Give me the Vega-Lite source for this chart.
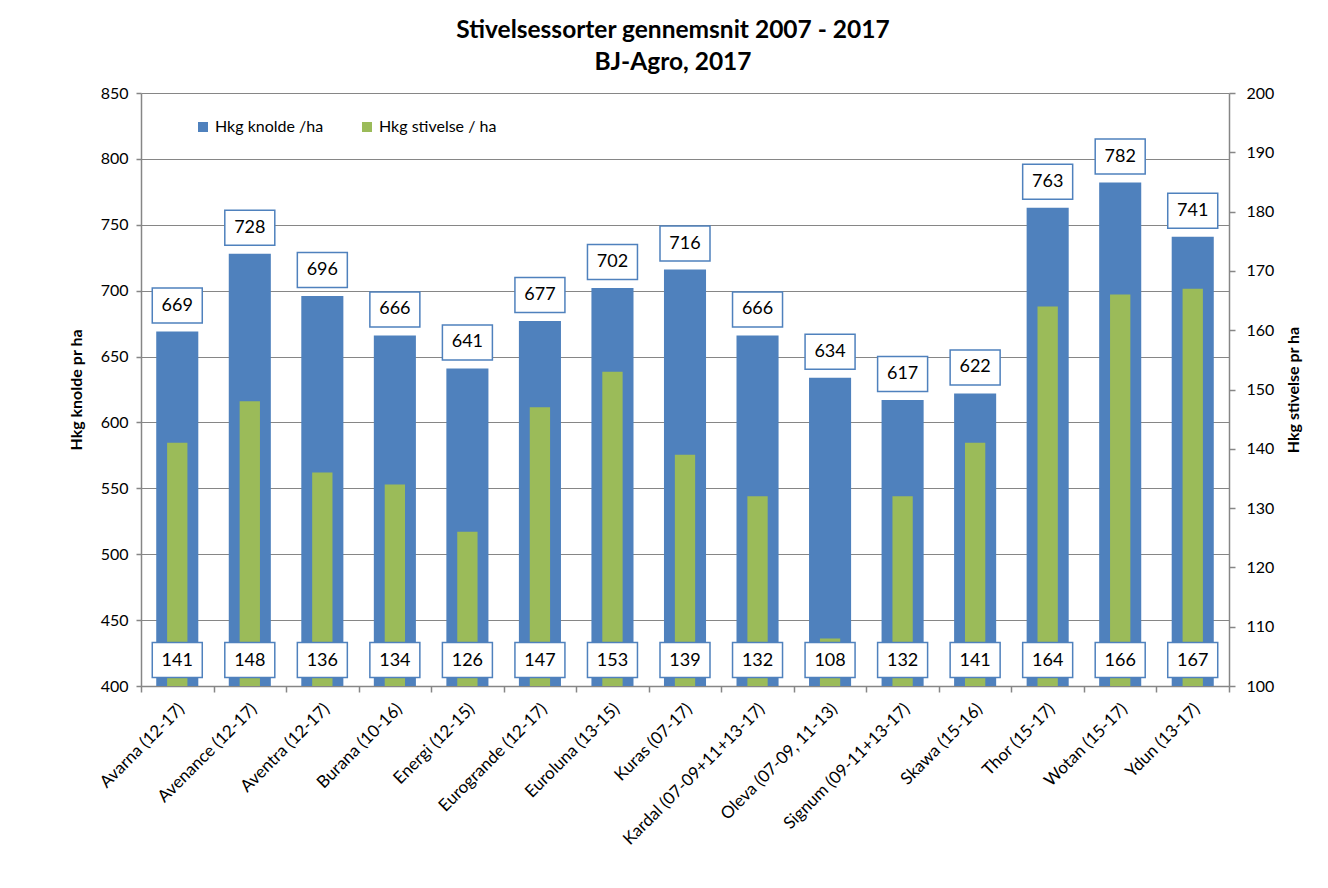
{
  "$schema": "https://vega.github.io/schema/vega-lite/v6.json",
  "autosize": "none",
  "padding": {"left": 141, "top": 93, "right": 99, "bottom": 202},
  "width": 1088,
  "height": 593,
  "background": "white",
  "title": {
    "text": ["Stivelsessorter gennemsnit 2007 - 2017", "BJ-Agro, 2017"],
    "fontSize": 24.5,
    "fontWeight": "bold",
    "lineHeight": 32,
    "offset": 10,
    "dx": -12,
    "anchor": "middle",
    "color": "#000"
  },
  "data": {
    "values": [
      {"sort": "Avarna (12-17)", "knolde": 669, "stivelse": 141},
      {"sort": "Avenance (12-17)", "knolde": 728, "stivelse": 148},
      {"sort": "Aventra (12-17)", "knolde": 696, "stivelse": 136},
      {"sort": "Burana (10-16)", "knolde": 666, "stivelse": 134},
      {"sort": "Energi (12-15)", "knolde": 641, "stivelse": 126},
      {"sort": "Eurogrande (12-17)", "knolde": 677, "stivelse": 147},
      {"sort": "Euroluna (13-15)", "knolde": 702, "stivelse": 153},
      {"sort": "Kuras (07-17)", "knolde": 716, "stivelse": 139},
      {"sort": "Kardal (07-09+11+13-17)", "knolde": 666, "stivelse": 132},
      {"sort": "Oleva (07-09, 11-13)", "knolde": 634, "stivelse": 108},
      {"sort": "Signum (09-11+13-17)", "knolde": 617, "stivelse": 132},
      {"sort": "Skawa (15-16)", "knolde": 622, "stivelse": 141},
      {"sort": "Thor (15-17)", "knolde": 763, "stivelse": 164},
      {"sort": "Wotan (15-17)", "knolde": 782, "stivelse": 166},
      {"sort": "Ydun (13-17)", "knolde": 741, "stivelse": 167}
    ]
  },
  "encoding": {
    "x": {
      "field": "sort",
      "type": "nominal",
      "sort": null,
      "scale": {"paddingInner": 0, "paddingOuter": 0},
      "axis": {
        "title": null,
        "ticks": true,
        "tickBand": "extent",
        "tickSize": 6,
        "domain": true,
        "grid": false,
        "labelAngle": -45,
        "labelAlign": "right",
        "labelBaseline": "middle",
        "labelPadding": 14,
        "labelOffset": 4,
        "labelLimit": 300,
        "labelFontSize": 17
      }
    }
  },
  "layer": [
    {
      "mark": {"type": "bar", "width": {"band": 0.58}, "clip": true},
      "encoding": {
        "y": {
          "field": "knolde",
          "type": "quantitative",
          "scale": {"domain": [400, 850], "nice": false, "zero": false},
          "axis": {
            "title": "Hkg knolde pr ha",
            "values": [400, 450, 500, 550, 600, 650, 700, 750, 800, 850],
            "grid": true,
            "tickSize": 5,
            "labelPadding": 8,
            "titlePadding": 16
          }
        },
        "color": {
          "datum": "Hkg knolde /ha",
          "type": "nominal",
          "scale": {
            "domain": ["Hkg knolde /ha", "Hkg stivelse / ha"],
            "range": ["#4f81bd", "#9bbb59"]
          },
          "legend": {
            "title": null,
            "orient": "none",
            "legendX": 54,
            "legendY": 26,
            "direction": "horizontal",
            "symbolType": "square",
            "symbolSize": 100,
            "symbolStrokeWidth": 0,
            "labelFontSize": 16,
            "labelColor": "#000",
            "labelOffset": 4,
            "columnPadding": 35
          }
        }
      }
    },
    {
      "mark": {"type": "bar", "width": {"band": 0.28}, "clip": true},
      "encoding": {
        "y": {
          "field": "stivelse",
          "type": "quantitative",
          "scale": {"domain": [100, 200], "nice": false, "zero": false},
          "axis": {
            "orient": "right",
            "title": "Hkg stivelse pr ha",
            "titleAngle": 270,
            "values": [100, 110, 120, 130, 140, 150, 160, 170, 180, 190, 200],
            "grid": false,
            "tickSize": 6,
            "labelPadding": 11,
            "titlePadding": 28
          }
        },
        "color": {"datum": "Hkg stivelse / ha", "type": "nominal"}
      }
    },
    {
      "mark": {
        "type": "point",
        "shape": "M-1,-0.7L1,-0.7L1,0.7L-1,0.7Z",
        "size": 2500,
        "filled": true,
        "fill": "white",
        "stroke": "#4f81bd",
        "strokeWidth": 1.5,
        "opacity": 1,
        "yOffset": -26
      },
      "encoding": {
        "y": {
          "field": "knolde",
          "type": "quantitative",
          "scale": {"domain": [400, 850], "nice": false, "zero": false},
          "axis": null
        }
      }
    },
    {
      "mark": {"type": "text", "fontSize": 18, "color": "#000", "baseline": "middle", "yOffset": -26},
      "encoding": {
        "y": {
          "field": "knolde",
          "type": "quantitative",
          "scale": {"domain": [400, 850], "nice": false, "zero": false},
          "axis": null
        },
        "text": {"field": "knolde", "type": "quantitative"}
      }
    },
    {
      "mark": {
        "type": "point",
        "shape": "M-1,-0.7L1,-0.7L1,0.7L-1,0.7Z",
        "size": 2500,
        "filled": true,
        "fill": "white",
        "stroke": "#4f81bd",
        "strokeWidth": 1.5,
        "opacity": 1,
        "yOffset": -26
      },
      "encoding": {
        "y": {
          "datum": 400,
          "type": "quantitative",
          "scale": {"domain": [400, 850], "nice": false, "zero": false},
          "axis": null
        }
      }
    },
    {
      "mark": {"type": "text", "fontSize": 18, "color": "#000", "baseline": "middle", "yOffset": -25},
      "encoding": {
        "y": {
          "datum": 400,
          "type": "quantitative",
          "scale": {"domain": [400, 850], "nice": false, "zero": false},
          "axis": null
        },
        "text": {"field": "stivelse", "type": "quantitative"}
      }
    }
  ],
  "resolve": {
    "scale": {"y": "independent"}
  },
  "config": {
    "font": "Lato",
    "view": {"stroke": null},
    "axis": {
      "labelFontSize": 16,
      "labelColor": "#000",
      "titleFontSize": 16,
      "titleFontWeight": "bold",
      "titleColor": "#000",
      "domainColor": "#868686",
      "tickColor": "#868686",
      "gridColor": "#868686",
      "gridOpacity": 1,
      "domainWidth": 1.5,
      "tickWidth": 1.5,
      "gridWidth": 1.2
    }
  }
}
